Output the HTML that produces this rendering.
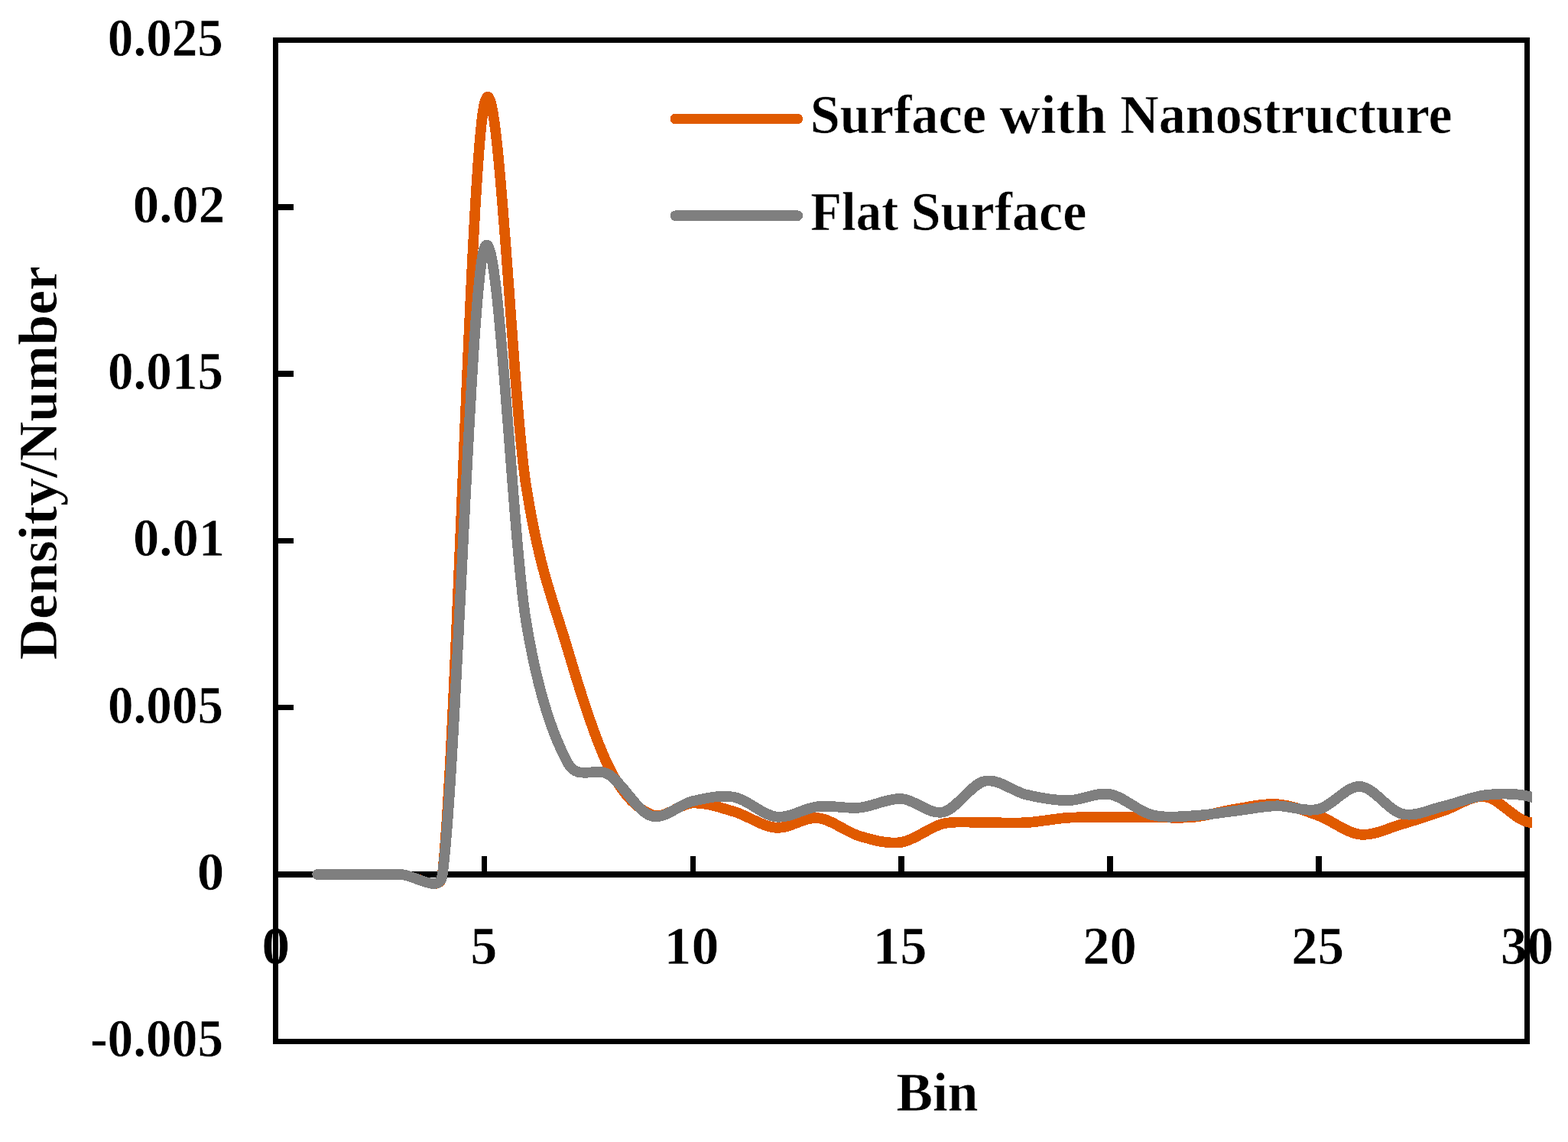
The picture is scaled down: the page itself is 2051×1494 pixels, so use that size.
<!DOCTYPE html>
<html lang="en">
<head>
<meta charset="utf-8">
<title>Density/Number vs Bin</title>
<style>
html,body{margin:0;padding:0;background:#fff;}
body{width:2051px;height:1494px;overflow:hidden;}
svg{display:block;}
</style>
</head>
<body>
<svg width="2051" height="1494" viewBox="0 0 2051 1494">
<rect width="2051" height="1494" fill="#fff"/>
<g font-family="'Liberation Serif', 'DejaVu Serif', serif" font-weight="bold" font-size="71.32" fill="#000" stroke="#fff" stroke-width="0.6" stroke-linejoin="round">
<text x="140.84" y="73.2" textLength="151.12" lengthAdjust="spacingAndGlyphs" font-size="70.2">0.025</text>
<text x="173.78" y="291.2" textLength="120.38" lengthAdjust="spacingAndGlyphs" font-size="70.2">0.02</text>
<text x="141.04" y="509.2" textLength="151.02" lengthAdjust="spacingAndGlyphs" font-size="70.2">0.015</text>
<text x="173.99" y="727.2" textLength="119.96" lengthAdjust="spacingAndGlyphs" font-size="70.2">0.01</text>
<text x="141.04" y="946" textLength="151.02" lengthAdjust="spacingAndGlyphs" font-size="70.2">0.005</text>
<text x="257.79" y="1164" textLength="35.51" lengthAdjust="spacingAndGlyphs" font-size="70.2">0</text>
<text x="118.13" y="1382.1" textLength="173.93" lengthAdjust="spacingAndGlyphs" font-size="70.2">-0.005</text>
<text x="342.28" y="1261.2" textLength="37.04" lengthAdjust="spacingAndGlyphs" font-size="70.2">0</text>
<text x="615.28" y="1261.2" textLength="35.2" lengthAdjust="spacingAndGlyphs" font-size="70.2">5</text>
<text x="868.64" y="1261.2" textLength="71.9" lengthAdjust="spacingAndGlyphs" font-size="70.2">10</text>
<text x="1141.84" y="1261.2" textLength="70.65" lengthAdjust="spacingAndGlyphs" font-size="70.2">15</text>
<text x="1416.23" y="1261.2" textLength="70.66" lengthAdjust="spacingAndGlyphs" font-size="70.2">20</text>
<text x="1689.31" y="1261.2" textLength="68.81" lengthAdjust="spacingAndGlyphs" font-size="70.2">25</text>
<text x="1963" y="1261.2" textLength="69.13" lengthAdjust="spacingAndGlyphs" font-size="70.2">30</text>
<text x="1172.47" y="1453.4" textLength="107.01" lengthAdjust="spacingAndGlyphs">Bin</text>
<text y="0" transform="translate(73.5 861.7) rotate(-90)"><tspan x="-1.6" textLength="258.74" lengthAdjust="spacingAndGlyphs">Density/</tspan><tspan x="258.13" textLength="255.51" lengthAdjust="spacingAndGlyphs">Number</tspan></text>
<text y="174.3"><tspan x="1059.66" textLength="230.16" lengthAdjust="spacingAndGlyphs">Surface</tspan> <tspan x="1307.48" textLength="139.94" lengthAdjust="spacingAndGlyphs">with</tspan> <tspan x="1465.27" textLength="434.35" lengthAdjust="spacingAndGlyphs">Nanostructure</tspan></text>
<text y="301"><tspan x="1060.36" textLength="114.83" lengthAdjust="spacingAndGlyphs">Flat</tspan> <tspan x="1191.46" textLength="229.95" lengthAdjust="spacingAndGlyphs">Surface</tspan></text>
</g>
<g fill="#000" shape-rendering="crispEdges">
<rect x="357" y="49" width="1644" height="7"/>
<rect x="357" y="1359" width="1644" height="7"/>
<rect x="357" y="49" width="7" height="1317"/>
<rect x="1994" y="49" width="7" height="1317"/>
<rect x="357" y="1140" width="1644" height="8"/>
<rect x="360" y="267" width="24" height="8"/>
<rect x="360" y="485" width="24" height="8"/>
<rect x="360" y="704" width="24" height="7"/>
<rect x="360" y="922" width="24" height="7"/>
<rect x="630" y="1120" width="7" height="24"/>
<rect x="903" y="1120" width="7" height="24"/>
<rect x="1175" y="1120" width="8" height="24"/>
<rect x="1448" y="1120" width="8" height="24"/>
<rect x="1721" y="1120" width="8" height="24"/>
</g>
<clipPath id="plotclip"><rect x="0" y="0" width="2004" height="1494"/></clipPath>
<g fill="none" stroke-width="13.7" stroke-linecap="round" stroke-linejoin="round" clip-path="url(#plotclip)" shape-rendering="crispEdges">
<path stroke="#e05a00" d="M415.07 1144.00C433.26 1144.00 451.44 1144.00 469.63 1144.00C487.82 1144.00 506.01 1144.00 524.20 1144.00C542.39 1144.00 575.83 1171.12 578.77 1144.00C596.96 976.17 615.14 222.05 633.33 137.00C651.52 51.95 669.71 514.98 687.90 633.70C704.74 743.62 724.28 787.43 742.47 849.30C760.66 911.17 778.84 968.87 797.03 1004.90C815.22 1040.93 833.41 1057.90 851.60 1065.50C869.79 1073.10 887.98 1051.08 906.17 1050.50C924.36 1049.92 942.54 1056.60 960.73 1062.00C978.92 1067.40 997.11 1081.55 1015.30 1082.90C1033.49 1084.25 1051.68 1068.28 1069.87 1070.10C1088.06 1071.92 1106.24 1088.50 1124.43 1093.80C1142.62 1099.10 1160.81 1104.60 1179.00 1101.90C1197.19 1099.20 1215.38 1081.88 1233.57 1077.60C1251.76 1073.32 1269.94 1076.45 1288.13 1076.20C1306.32 1075.95 1324.51 1077.17 1342.70 1076.10C1360.89 1075.03 1379.08 1070.93 1397.27 1069.80C1415.46 1068.67 1433.64 1069.40 1451.83 1069.30C1470.02 1069.20 1488.21 1069.25 1506.40 1069.20C1524.59 1069.15 1542.78 1070.77 1560.97 1069.00C1579.16 1067.23 1597.34 1061.42 1615.53 1058.60C1633.72 1055.78 1651.91 1050.70 1670.10 1052.10C1688.29 1053.50 1706.48 1060.40 1724.67 1067.00C1742.86 1073.60 1761.04 1089.85 1779.23 1091.70C1797.42 1093.55 1815.61 1083.30 1833.80 1078.10C1851.99 1072.90 1870.18 1066.45 1888.37 1060.50C1906.56 1054.55 1924.74 1039.97 1942.93 1042.40C1961.12 1044.83 1979.31 1070.33 1997.50 1075.10C2015.69 1079.87 2033.88 1072.37 2052.07 1071.00"/>
<path stroke="#7f7f7f" d="M415.07 1144.00C433.26 1144.00 451.44 1144.00 469.63 1144.00C487.82 1144.00 506.01 1144.00 524.20 1144.00C542.39 1144.00 575.16 1171.04 578.77 1144.00C596.96 1007.58 615.14 380.93 633.33 325.50C651.52 270.07 669.71 699.35 687.90 811.40C703.46 907.26 724.28 964.08 742.47 997.80C755.96 1022.81 778.84 1002.12 797.03 1013.70C815.22 1025.28 833.41 1061.57 851.60 1067.30C869.79 1073.03 887.98 1052.17 906.17 1048.10C924.36 1044.03 942.54 1039.48 960.73 1042.90C978.92 1046.32 997.11 1066.57 1015.30 1068.60C1033.49 1070.63 1051.68 1057.10 1069.87 1055.10C1088.06 1053.10 1106.24 1058.28 1124.43 1056.60C1142.62 1054.92 1160.81 1044.03 1179.00 1045.00C1197.19 1045.97 1215.38 1066.25 1233.57 1062.40C1251.76 1058.55 1269.94 1025.68 1288.13 1021.90C1306.32 1018.12 1324.51 1035.48 1342.70 1039.70C1360.89 1043.92 1379.08 1047.30 1397.27 1047.20C1415.46 1047.10 1433.64 1035.97 1451.83 1039.10C1470.02 1042.23 1488.21 1061.32 1506.40 1066.00C1524.59 1070.68 1542.78 1068.05 1560.97 1067.20C1579.16 1066.35 1597.34 1063.05 1615.53 1060.90C1633.72 1058.75 1651.91 1054.68 1670.10 1054.30C1688.29 1053.92 1706.48 1062.83 1724.67 1058.60C1742.86 1054.37 1761.04 1027.88 1779.23 1028.90C1797.42 1029.92 1815.61 1060.40 1833.80 1064.70C1851.99 1069.00 1870.18 1058.80 1888.37 1054.70C1906.56 1050.60 1924.74 1042.33 1942.93 1040.10C1961.12 1037.87 1979.31 1037.65 1997.50 1041.30C2015.69 1044.95 2033.88 1055.10 2052.07 1062.00"/>
</g>
<g fill="none" stroke-width="13.7" stroke-linecap="round" shape-rendering="crispEdges">
<path stroke="#e05a00" d="M883.4 155.5H1043.3"/>
<path stroke="#7f7f7f" d="M883.4 282.2H1043.3"/>
</g>
</svg>
</body>
</html>
